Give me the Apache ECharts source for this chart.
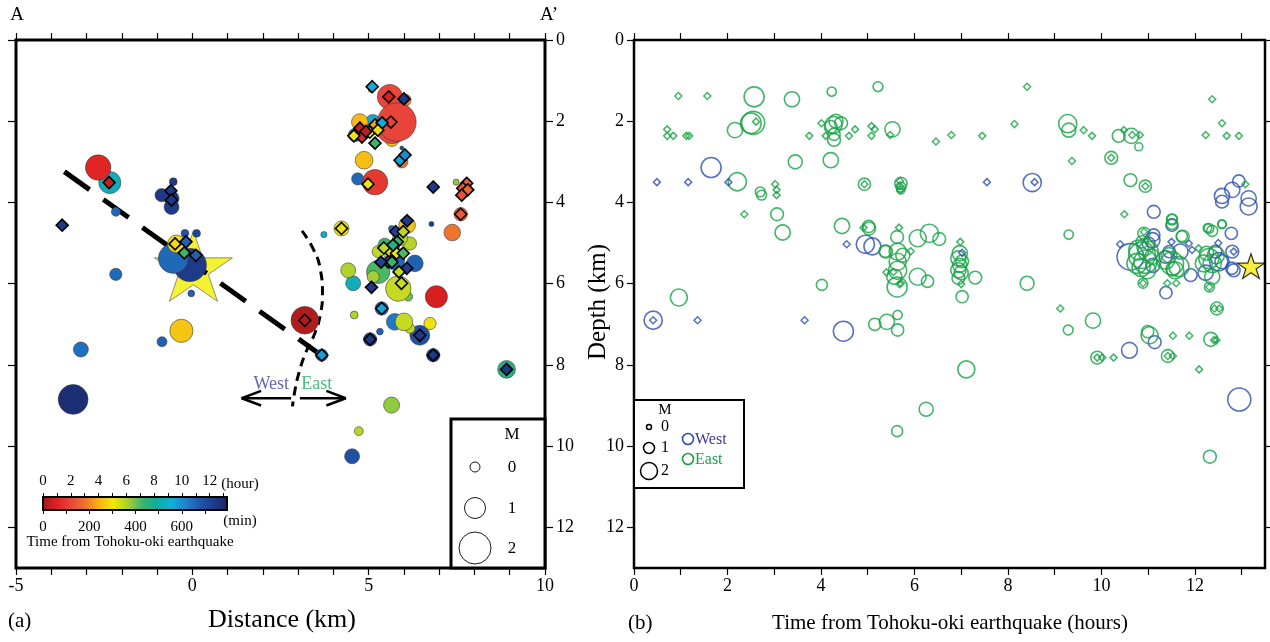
<!DOCTYPE html>
<html>
<head>
<meta charset="utf-8">
<script src="https://cdn.jsdelivr.net/npm/echarts@6/dist/echarts.min.js"></script>
<style>
  html, body { margin: 0; padding: 0; background: #fff; }
  #chart { width: 1270px; height: 642px; }
</style>
</head>
<body>
<div id="chart"></div>
<script>
// ---- (a) cross section A–A' : [distance km, depth km, magnitude, minutes after mainshock]
const sectionQuakes = [
  [5.06,1.23,-0.45,290],[5.60,1.40,1.36,125],[6.03,1.48,0.2,190],[5.80,2.02,2.6,120],
  [5.66,2.14,2.1,125],[4.75,2.02,0.6,250],[5.12,2.02,0.45,560],[4.61,2.34,0.3,650],
  [5.66,2.46,0.3,260],[5.94,2.66,-0.55,720],[5.94,3.00,0.2,185],[4.87,2.96,0.7,255],
  [4.69,3.42,0.2,650],[5.18,3.50,1.4,100],[7.48,3.50,-0.35,380],[7.61,4.29,0.3,165],
  [7.37,4.74,0.6,185],[6.78,4.53,-0.45,720],[6.92,6.32,1.1,55],[8.91,8.11,0.7,460],
  [5.65,8.99,0.55,380],[4.72,9.63,-0.1,355],[4.53,10.25,0.45,690],[4.23,4.64,0.45,300],
  [3.73,4.79,-0.35,560],[6.09,4.56,0.6,260],[5.65,4.64,-0.35,650],[5.89,4.88,0.45,350],
  [5.27,5.21,0.2,345],[6.17,5.01,0.3,355],[6.31,5.50,0.6,660],[5.27,5.71,1.2,420],
  [4.42,5.67,0.45,360],[4.56,5.99,0.45,520],[5.13,5.83,0.2,370],[5.84,6.12,1.4,340],
  [6.12,6.32,-0.1,400],[5.74,5.42,0.9,650],[5.66,5.22,0.7,350],[5.46,5.05,0.35,430],
  [5.37,6.61,0.3,680],[4.59,6.77,-0.2,360],[5.74,6.94,0.6,630],[6.00,6.94,0.7,340],
  [6.74,6.98,0.2,300],[6.17,7.10,0.0,350],[5.32,7.18,-0.3,660],[5.04,7.37,0.3,720],
  [6.45,7.27,0.9,690],[6.83,7.76,0.3,730],[3.19,6.90,1.6,20],[3.67,7.76,0.2,640],
  [-2.67,3.14,1.4,70],[-2.34,3.51,1.1,520],[-2.17,4.23,-0.1,650],[-0.87,3.82,0.3,740],
  [-0.59,3.90,0.45,745],[-0.59,4.11,0.45,740],[-0.54,3.49,-0.2,735],[-2.17,5.77,0.2,650],
  [-0.54,5.38,1.8,650],[-0.07,5.54,2.1,735],[-0.21,4.76,-0.2,690],[0.12,4.76,-0.2,710],
  [-0.45,5.02,0.7,290],[-0.03,6.24,-0.3,660],[-0.31,7.16,1.2,265],[-0.86,7.43,0.0,660],
  [-3.16,7.62,0.45,640],[-3.38,8.85,1.8,765]
];
// diamonds: [distance km, depth km, minutes]
const sectionDiamonds = [
  [5.10,1.15,560],[5.57,1.40,60],[6.00,1.45,740],[5.63,2.02,120],[4.75,2.17,40],
  [4.81,2.39,70],[4.58,2.36,300],[5.03,2.27,300],[5.18,2.09,230],[5.38,2.04,560],
  [5.26,2.22,290],[5.18,2.54,430],[4.92,2.25,30],[5.89,2.96,570],[6.03,2.83,600],
  [4.98,3.55,300],[6.83,3.62,740],[7.78,3.53,160],[7.67,3.65,150],[7.81,3.69,170],
  [7.64,3.82,140],[7.61,4.29,150],[4.23,4.64,300],[6.09,4.45,740],[5.77,4.72,720],
  [5.98,4.72,350],[5.81,4.97,430],[5.58,5.19,330],[5.79,5.25,310],[5.98,5.25,420],
  [5.55,5.46,720],[6.08,5.62,730],[5.86,5.71,340],[5.93,5.99,340],[5.08,6.09,740],
  [5.66,5.47,440],[5.35,5.47,720],[5.43,5.12,350],[5.69,5.05,460],[5.37,6.61,560],
  [5.04,7.37,740],[6.45,7.27,740],[6.83,7.76,740],[3.67,7.76,580],[3.19,6.90,20],
  [8.91,8.11,740],[-2.36,3.51,40],[-0.61,3.71,740],[-0.59,3.94,740],[-3.69,4.56,740],
  [-0.49,5.02,290],[-0.18,4.97,660],[-0.23,5.24,430],[0.10,5.30,660]
];
const sectionStar = [[0.03, 5.66]];
const faultTrace = [[-3.63, 3.24], [3.99, 7.97]];
const boundaryCurve = [[3.11,4.70],[3.43,5.15],[3.63,5.65],[3.69,6.26],[3.63,6.76],
  [3.48,7.21],[3.23,7.67],[3.03,8.17],[2.90,8.67],[2.84,9.02]];
const westShaft = [[2.80, 8.82], [1.40, 8.82]];
const westHead = [[1.95, 8.64], [1.40, 8.82], [1.95, 9.00]];
const eastShaft = [[3.05, 8.82], [4.35, 8.82]];
const eastHead = [[3.80, 8.64], [4.35, 8.82], [3.80, 9.00]];
const sideLabels = [
  { name: 'West', value: [2.24, 8.47], color: '#3c3ca3' },
  { name: 'East', value: [3.53, 8.47], color: '#1fae62' }
];

// ---- (b) depth vs time : [hours, depth km, magnitude]
const westQuakes = [
  [1.65,3.14,2.5],[0.41,6.90,2.2],[4.48,7.17,2.5],[4.95,5.03,2.2],[5.10,5.08,2.0],
  [8.52,3.51,2.2],[10.60,7.64,1.8],[11.14,7.44,1.3],[12.95,8.85,3.0],[11.12,4.23,1.3],
  [12.94,3.47,1.2],[12.80,3.69,1.7],[12.58,3.84,1.7],[12.58,3.98,1.3],[13.15,3.90,1.7],
  [13.15,4.10,2.0],[10.62,5.34,3.6],[11.09,4.93,1.7],[11.01,5.01,1.3],[11.12,4.80,1.2],
  [11.51,4.56,1.2],[11.37,5.34,1.3],[11.69,5.21,1.7],[11.45,5.21,1.2],[11.91,5.79,1.3],
  [11.38,6.22,1.2],[12.78,4.76,1.2],[12.44,5.21,1.3],[12.51,5.46,2.2],[12.80,5.21,1.3],
  [12.83,5.67,1.3],[12.58,5.46,1.5],[12.23,5.73,1.7],[12.79,5.62,1.2],[11.10,5.55,1.5]
];
const eastQuakes = [
  [2.57,1.40,2.5],[3.38,1.46,1.7],[4.23,1.27,0.7],[5.22,1.15,0.8],[2.55,2.04,3.0],
  [2.50,2.05,2.6],[2.16,2.22,1.7],[4.27,2.09,2.0],[4.43,2.05,1.3],[4.21,2.14,1.3],
  [4.28,2.46,1.3],[4.28,2.32,1.2],[4.32,2.00,1.5],[5.53,2.20,1.7],[9.28,2.06,2.2],
  [9.30,2.22,1.5],[10.37,2.36,1.3],[10.64,2.36,1.7],[10.80,2.63,0.5],[10.21,2.90,1.3],
  [10.62,3.45,1.3],[10.94,3.60,1.2],[4.21,2.96,1.7],[3.45,3.00,1.5],[2.21,3.49,2.2],
  [2.70,3.74,0.8],[2.73,3.82,0.8],[4.93,3.55,1.2],[5.71,3.53,1.2],[5.71,3.62,0.8],
  [5.71,3.69,0.5],[3.06,4.29,1.3],[3.18,4.74,1.7],[4.45,4.58,1.7],[5.03,4.64,1.3],
  [5.63,4.85,1.3],[6.07,4.88,2.0],[6.32,4.76,2.2],[6.53,4.90,1.3],[9.30,4.79,0.7],
  [11.51,4.42,1.0],[11.51,4.53,1.0],[11.74,4.84,1.3],[12.30,4.64,0.8],[12.37,4.70,1.0],
  [12.58,4.53,0.5],[5.64,5.21,2.0],[5.64,5.46,2.0],[5.64,5.67,2.2],[5.57,5.83,1.7],
  [5.63,6.08,2.5],[6.07,5.83,2.0],[6.28,5.94,1.2],[5.39,5.21,1.3],[5.37,5.20,1.2],
  [5.02,4.59,1.2],[5.75,5.30,1.5],[6.94,5.38,1.7],[6.94,5.67,1.7],[6.94,5.86,1.3],
  [7.30,5.85,1.3],[7.02,6.32,1.2],[6.97,5.25,1.7],[6.97,5.55,1.5],[7.00,5.73,1.5],
  [7.02,5.45,1.3],[4.02,6.03,1.0],[0.96,6.34,2.0],[8.41,5.99,1.5],[10.87,5.30,3.6],
  [10.94,5.46,3.0],[10.80,5.17,2.5],[10.94,5.09,2.0],[10.98,5.67,2.0],[10.76,5.50,2.5],
  [11.09,5.34,1.7],[10.87,4.97,1.2],[10.91,4.76,1.2],[10.85,5.60,2.2],[11.00,5.20,2.5],
  [11.51,5.50,3.0],[11.66,5.58,2.5],[11.37,5.42,2.2],[11.58,5.67,2.0],[11.53,5.64,1.5],
  [11.72,4.83,1.0],[11.51,4.41,0.8],[11.45,5.30,1.7],[12.30,5.38,2.5],[12.37,5.50,2.2],
  [12.19,5.50,2.0],[12.37,5.83,1.7],[12.31,6.08,0.8],[12.27,4.63,0.6],[12.58,4.54,0.6],
  [12.45,5.30,2.0],[12.25,5.25,1.5],[10.89,5.99,0.8],[12.47,6.61,1.3],[9.82,6.91,1.7],
  [9.29,7.14,0.8],[11.03,7.27,2.0],[10.99,7.18,1.2],[12.34,7.37,1.5],[9.91,7.82,1.3],
  [11.42,7.78,1.3],[7.11,8.11,2.0],[6.25,9.09,1.5],[5.63,9.63,1.0],[12.32,10.26,1.3],
  [5.15,7.00,1.2],[5.41,6.94,1.7],[5.64,6.77,0.7],[5.64,7.14,1.2]
];
// small diamonds: [hours, depth km]
const westDiamonds = [
  [0.49,3.50],[1.16,3.50],[2.02,3.50],[7.55,3.50],[8.57,3.50],[4.55,5.03],[7.02,5.24],
  [10.40,5.03],[11.50,4.97],[11.87,5.01],[11.94,5.17],[12.50,5.00],[12.83,5.21],
  [0.41,6.90],[1.36,6.90],[3.65,6.90]
];
const eastDiamonds = [
  [0.95,1.38],[1.57,1.38],[0.71,2.20],[0.71,2.36],[0.84,2.36],[1.12,2.36],[1.18,2.36],
  [2.61,2.01],[3.75,2.36],[4.01,2.05],[4.10,2.36],[4.60,2.36],[4.73,2.20],[5.08,2.12],
  [5.08,2.36],[5.15,2.20],[5.48,2.34],[6.46,2.50],[6.79,2.34],[7.45,2.36],[8.14,2.07],
  [8.41,1.15],[9.62,2.22],[9.80,2.36],[9.37,2.98],[10.48,2.22],[10.66,2.34],[10.82,2.34],
  [10.21,2.90],[10.94,3.60],[12.23,2.34],[12.37,1.46],[12.58,2.05],[12.68,2.36],
  [12.94,2.36],[13.08,3.55],[3.02,3.55],[3.05,3.69],[3.05,3.82],[2.36,4.29],[4.93,3.55],
  [5.69,3.47],[5.69,3.60],[5.69,3.70],[4.91,4.62],[5.67,4.62],[5.92,5.20],[5.40,5.72],
  [5.55,5.71],[5.71,5.99],[6.98,4.97],[7.00,6.01],[5.68,6.01],[10.49,4.29],[10.91,4.72],
  [12.08,5.13],[11.41,5.99],[11.60,5.99],[10.89,5.99],[12.31,6.08],[12.42,6.61],
  [12.52,6.61],[9.12,6.61],[11.53,7.28],[11.88,7.28],[12.41,7.39],[12.46,7.39],
  [9.91,7.82],[10.02,7.82],[10.26,7.82],[11.42,7.78],[11.53,7.78],[12.09,8.11]
];
const timeStar = [[13.2, 5.6]];

// ---- axes and colour scale
const distTicks = [-5,-4,-3,-2,-1,0,1,2,3,4,5,6,7,8,9,10];
const distLabels = [-5, 0, 5, 10];
const depthTicks = [0, 2, 4, 6, 8, 10, 12];
const hourTicks = [0,1,2,3,4,5,6,7,8,9,10,11,12,13];
const hourLabels = [0, 2, 4, 6, 8, 10, 12];
const minuteTicks = [0, 100, 200, 300, 400, 500, 600, 700];
const minuteLabels = [0, 200, 400, 600];
const timeMax = 795; // minutes at the right end of the colour bar
const timeColors = ['#9b1b1e','#df2020','#e8453a','#ee7330','#f8b416','#eee80e','#a8cf34',
  '#3db46a','#12aa9c','#12b0d8','#1f86d0','#1f58ac','#1e3b8a','#1b2360'];
const magLegend = [0, 1, 2];

const FONT = '"Liberation Serif","DejaVu Serif","Times New Roman",serif';
const WEST = '#2d4fae', EAST = '#17a345';
const sizeA = m => Math.max(3, 10 + 11 * m);   // symbol size in panel (a)
const sizeB = m => Math.max(3, 5 + 6 * m);     // symbol size in panel (b)
const STAR = 'path://M50,0L61.2,34.5L97.6,34.5L68.2,55.9L79.4,90.5L50,69.1L20.6,90.5L31.8,55.9L2.4,34.5L38.8,34.5Z';

function txt(text, x, y, size, o = {}) {
  return {
    type: 'text', x, y, rotation: o.rot || 0, z: 100,
    style: { text, x: 0, y: 0, fill: o.color || '#000', font: `${size}px ${FONT}`,
             align: o.align || 'center', verticalAlign: 'middle' }
  };
}
function ring(cx, cy, r, color, w) {
  return { type: 'circle', z: 101, shape: { cx, cy, r },
           style: { fill: 'none', stroke: color, lineWidth: w } };
}

const tickStyle = { color: '#000', width: 1.2 };
function valAxis(extra) {
  return Object.assign({
    type: 'value', axisLine: { show: false, onZero: false }, splitLine: { show: false },
    axisTick: { show: true, length: 7, lineStyle: tickStyle },
    axisLabel: { color: '#000', fontSize: 18, fontFamily: FONT }
  }, extra);
}

const sectionCircleData = sectionQuakes
  .map(q => [q[0], q[1], q[3], q[2]])
  .sort((a, b) => b[2] - a[2]);

const chart = echarts.init(document.getElementById('chart'), null, { renderer: 'canvas' });

const graphics = [
  txt('A', 17, 15, 19), txt('A\u2019', 549, 15, 19),
  txt('Distance (km)', 282, 620, 26),
  txt('(a)', 8, 621, 21, { align: 'left' }),
  txt('Depth (km)', 598, 302, 25, { rot: Math.PI / 2 }),
  txt('Time from Tohoku-oki earthquake (hours)', 950, 623, 21),
  txt('(b)', 628, 623, 21, { align: 'left' }),
  // colour bar captions
  txt('(hour)', 240, 484, 15), txt('(min)', 240, 521, 15),
  txt('Time from Tohoku-oki earthquake', 130, 542, 15),
  // magnitude legend, panel (a)
  { type: 'rect', z: 99, shape: { x: 451, y: 419, width: 94, height: 149 },
    style: { fill: '#fff', stroke: '#000', lineWidth: 3 } },
  txt('M', 512, 435, 17)
];
magLegend.forEach((m, i) => {
  const y = [467, 508, 548][i];
  graphics.push(ring(475, y, sizeA(m) / 2, '#000', 0.9));
  graphics.push(txt(String(m), 512, y + 1, 17));
});
// magnitude / side legend, panel (b)
graphics.push({ type: 'rect', z: 99, shape: { x: 634, y: 400, width: 110, height: 88 },
  style: { fill: '#fff', stroke: '#000', lineWidth: 2 } });
graphics.push(txt('M', 665, 410, 15));
magLegend.forEach((m, i) => {
  const y = [427, 448, 471][i];
  graphics.push(ring(649, y, sizeB(m) / 2, '#000', 1.5));
  graphics.push(txt(String(m), 665, y, 16));
});
graphics.push(ring(688, 439, sizeB(1) / 2, WEST, 1.6));
graphics.push(txt('West', 695, 440, 16, { align: 'left', color: '#3b3b9e' }));
graphics.push(ring(688, 459, sizeB(1) / 2, EAST, 1.6));
graphics.push(txt('East', 695, 460, 16, { align: 'left', color: '#1aa64a' }));

const blackLine = (data, w, type, extra) => Object.assign({
  type: 'line', xAxisIndex: 0, yAxisIndex: 0, data, symbol: 'none', z: 3, silent: true,
  lineStyle: { color: '#000', width: w, type: type, cap: 'butt' }
}, extra || {});

const option = {
  animation: false,
  backgroundColor: '#fff',
  textStyle: { fontFamily: FONT },
  grid: [
    { left: 16, top: 40, width: 529, height: 528, show: true, borderColor: '#000', borderWidth: 3, backgroundColor: 'transparent' },
    { left: 634, top: 40, width: 631, height: 528, show: true, borderColor: '#000', borderWidth: 2.5, backgroundColor: 'transparent' },
    { left: 43, top: 497, width: 184, height: 13, show: false }
  ],
  xAxis: [
    valAxis({ gridIndex: 0, min: -5, max: 10, position: 'bottom',
      axisTick: { length: 7, lineStyle: tickStyle, customValues: distTicks },
      axisLabel: { color: '#000', fontSize: 18, margin: 9, customValues: distLabels } }),
    valAxis({ gridIndex: 0, min: -5, max: 10, position: 'top',
      axisTick: { length: 7, lineStyle: tickStyle, customValues: distTicks },
      axisLabel: { show: false } }),
    valAxis({ gridIndex: 1, min: 0, max: 13.5, position: 'bottom',
      axisTick: { length: 7, lineStyle: tickStyle, customValues: hourTicks },
      axisLabel: { color: '#000', fontSize: 18, margin: 9, customValues: hourLabels } }),
    valAxis({ gridIndex: 1, min: 0, max: 13.5, position: 'top',
      axisTick: { length: 7, lineStyle: tickStyle, customValues: hourTicks },
      axisLabel: { show: false } }),
    valAxis({ gridIndex: 2, min: 0, max: timeMax, position: 'bottom',
      axisTick: { length: 4, lineStyle: { color: '#000', width: 1 }, customValues: minuteTicks },
      axisLabel: { color: '#000', fontSize: 15, margin: 10, customValues: minuteLabels } }),
    valAxis({ gridIndex: 2, min: 0, max: timeMax / 60, position: 'top',
      axisTick: { length: 4, lineStyle: { color: '#000', width: 1 }, customValues: hourTicks },
      axisLabel: { color: '#000', fontSize: 15, margin: 8, customValues: hourLabels } })
  ],
  yAxis: [
    valAxis({ gridIndex: 0, min: 0, max: 13, inverse: true, position: 'right',
      axisTick: { length: 8, lineStyle: tickStyle, customValues: depthTicks },
      axisLabel: { color: '#000', fontSize: 18, margin: 11, customValues: depthTicks } }),
    valAxis({ gridIndex: 0, min: 0, max: 13, inverse: true, position: 'left',
      axisTick: { length: 8, lineStyle: tickStyle, customValues: depthTicks },
      axisLabel: { show: false } }),
    valAxis({ gridIndex: 1, min: 0, max: 13, inverse: true, position: 'left',
      axisTick: { length: 7, lineStyle: tickStyle, customValues: depthTicks },
      axisLabel: { color: '#000', fontSize: 18, margin: 10, customValues: depthTicks } }),
    valAxis({ gridIndex: 1, min: 0, max: 13, inverse: true, position: 'right',
      axisTick: { length: 7, lineStyle: tickStyle, customValues: depthTicks },
      axisLabel: { show: false } }),
    { type: 'value', gridIndex: 2, min: 0, max: 1, show: false }
  ],
  visualMap: [{
    type: 'continuous', show: false, min: 0, max: timeMax, dimension: 2,
    seriesIndex: [3, 4], inRange: { color: timeColors }
  }],
  graphic: graphics,
  series: [
    // 0 hypocentre star, panel (a)
    { type: 'scatter', xAxisIndex: 0, yAxisIndex: 0, data: sectionStar, z: 2, silent: true,
      symbol: STAR, symbolSize: [78, 74], symbolKeepAspect: true, symbolOffset: [0, '-5%'],
      itemStyle: { color: '#f2ee00', borderColor: '#555', borderWidth: 0.8 } },
    // 1 projected fault trace
    blackLine(faultTrace, 5, [31, 17]),
    // 2 west/east boundary
    blackLine(boundaryCurve, 3, [9, 6], { smooth: true }),
    // 3 events coloured by time
    { type: 'scatter', xAxisIndex: 0, yAxisIndex: 0, data: sectionCircleData, z: 4,
      symbol: 'circle', symbolSize: v => sizeA(v[3]),
      itemStyle: { borderColor: '#3a3a3a', borderWidth: 0.6, opacity: 1 } },
    // 4 diamonds coloured by time
    { type: 'scatter', xAxisIndex: 0, yAxisIndex: 0, data: sectionDiamonds, z: 5,
      symbol: 'diamond', symbolSize: 12,
      itemStyle: { borderColor: '#000', borderWidth: 1.6, opacity: 1 } },
    // 5–8 arrows
    blackLine(westShaft, 2.5, 'solid'),
    blackLine(westHead, 2.5, 'solid'),
    blackLine(eastShaft, 2.5, 'solid'),
    blackLine(eastHead, 2.5, 'solid'),
    // 9 side labels
    { type: 'scatter', xAxisIndex: 0, yAxisIndex: 0, symbolSize: 1, z: 6, silent: true,
      data: sideLabels.map(s => ({ name: s.name, value: s.value,
        itemStyle: { color: 'rgba(0,0,0,0)' },
        label: { show: true, position: 'inside', formatter: '{b}', color: s.color,
                 fontSize: 18, fontFamily: FONT } })) },
    // 10 star, panel (b)
    { type: 'scatter', xAxisIndex: 2, yAxisIndex: 2, data: timeStar, z: 6, silent: true,
      symbol: STAR, symbolSize: [27, 26], symbolKeepAspect: true, symbolOffset: [0, '-5%'],
      itemStyle: { color: '#f5ea10', borderColor: '#000', borderWidth: 1.2 } },
    // 11–12 circles by side
    { type: 'scatter', name: 'West', xAxisIndex: 2, yAxisIndex: 2, data: westQuakes, z: 4,
      symbolSize: v => sizeB(v[2]),
      itemStyle: { color: 'rgba(0,0,0,0)', borderColor: WEST, borderWidth: 1.6 } },
    { type: 'scatter', name: 'East', xAxisIndex: 2, yAxisIndex: 2, data: eastQuakes, z: 4,
      symbolSize: v => sizeB(v[2]),
      itemStyle: { color: 'rgba(0,0,0,0)', borderColor: EAST, borderWidth: 1.6 } },
    // 13–14 small diamonds by side
    { type: 'scatter', xAxisIndex: 2, yAxisIndex: 2, data: westDiamonds, z: 5,
      symbol: 'diamond', symbolSize: 7,
      itemStyle: { color: 'rgba(0,0,0,0)', borderColor: WEST, borderWidth: 1.5 } },
    { type: 'scatter', xAxisIndex: 2, yAxisIndex: 2, data: eastDiamonds, z: 5,
      symbol: 'diamond', symbolSize: 7,
      itemStyle: { color: 'rgba(0,0,0,0)', borderColor: EAST, borderWidth: 1.5 } },
    // 15 colour bar
    { type: 'custom', xAxisIndex: 4, yAxisIndex: 4, data: [[0, timeMax]], clip: false, silent: true,
      renderItem: (params, api) => {
        const a = api.coord([api.value(0), 0]);
        const b = api.coord([api.value(1), 1]);
        return {
          type: 'rect',
          shape: { x: a[0], y: b[1], width: b[0] - a[0], height: a[1] - b[1] },
          style: {
            fill: new echarts.graphic.LinearGradient(0, 0, 1, 0,
              timeColors.map((c, i) => ({ offset: i / (timeColors.length - 1), color: c }))),
            stroke: '#000', lineWidth: 2
          }
        };
      } }
  ]
};
chart.setOption(option);
</script>
</body>
</html>
